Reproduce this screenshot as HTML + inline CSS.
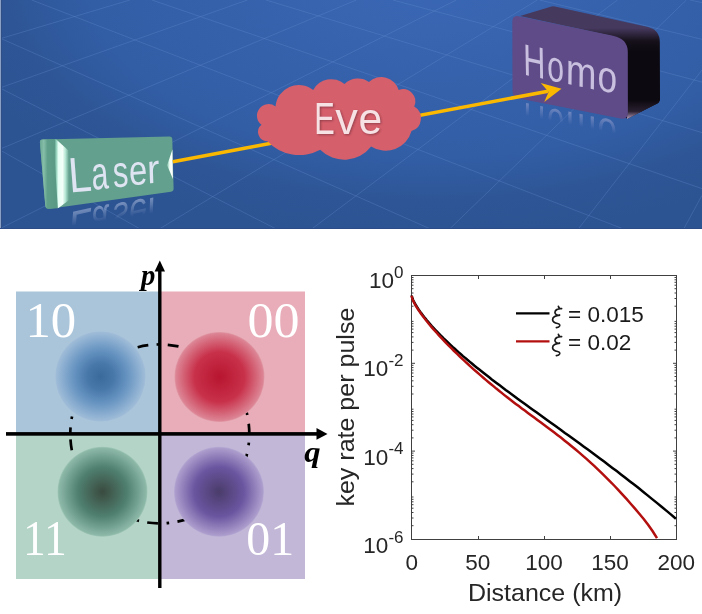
<!DOCTYPE html>
<html><head><meta charset="utf-8">
<style>
html,body{margin:0;padding:0;background:#fff;}
body{width:702px;height:614px;overflow:hidden;position:relative;}
svg{position:absolute;left:0;top:0;display:block;will-change:transform;}
.t{will-change:transform;position:absolute;left:0;top:0;transform-origin:0 0;font-family:"Liberation Sans",sans-serif;font-size:200px;line-height:1;white-space:nowrap;}
</style></head>
<body>
<svg width="702" height="229" viewBox="0 0 702 229">

<defs>
  <radialGradient id="bg" cx="0" cy="0" r="1" gradientUnits="userSpaceOnUse" gradientTransform="translate(430 -20) scale(500 260)">
    <stop offset="0" stop-color="#3a67b4"/>
    <stop offset="0.2" stop-color="#3864b0"/>
    <stop offset="0.68" stop-color="#325ea6"/>
    <stop offset="0.85" stop-color="#2e5696"/>
    <stop offset="1" stop-color="#2c5392"/>
  </radialGradient>
  <linearGradient id="lstrip" x1="40" y1="0" x2="55" y2="0" gradientUnits="userSpaceOnUse">
    <stop offset="0" stop-color="#6aa893"/>
    <stop offset="0.25" stop-color="#86bea9"/>
    <stop offset="0.5" stop-color="#609f8a"/>
    <stop offset="1" stop-color="#5b9b86"/>
  </linearGradient>
  <linearGradient id="bevel" x1="54.5" y1="0" x2="69" y2="0" gradientUnits="userSpaceOnUse">
    <stop offset="0" stop-color="#5c9c88"/>
    <stop offset="0.12" stop-color="#8fd0b9"/>
    <stop offset="0.27" stop-color="#e6fff4"/>
    <stop offset="0.55" stop-color="#f4fffa"/>
    <stop offset="0.75" stop-color="#b8e8d6"/>
    <stop offset="1" stop-color="#63a08d"/>
  </linearGradient>
  <linearGradient id="crescent" x1="167" y1="0" x2="172.5" y2="0" gradientUnits="userSpaceOnUse">
    <stop offset="0" stop-color="#7cbca6"/>
    <stop offset="0.5" stop-color="#f0fff8"/>
    <stop offset="1" stop-color="#ffffff"/>
  </linearGradient>
  <linearGradient id="sideG" x1="0" y1="28" x2="0" y2="52" gradientUnits="userSpaceOnUse">
    <stop offset="0" stop-color="#46395e"/>
    <stop offset="0.55" stop-color="#151019"/>
    <stop offset="1" stop-color="#0c0910"/>
  </linearGradient>
  <linearGradient id="sideB" x1="0" y1="100" x2="0" y2="119" gradientUnits="userSpaceOnUse">
    <stop offset="0" stop-color="#0c0910"/>
    <stop offset="0.6" stop-color="#2a2030"/>
    <stop offset="1" stop-color="#b9a0c0"/>
  </linearGradient>
</defs>
<rect x="0" y="0" width="702" height="229" fill="url(#bg)"/>
<path d="M0.0 38.1L430.5 229.0M31.7 0.0L623.6 229.0M151.9 0.0L702.0 188.6M266.0 0.0L702.0 132.6M392.8 0.0L702.0 82.1M539.5 0.0L702.0 39.3M0.0 88.0L276.2 229.0M0.0 150.0L140.2 229.0M690.0 0.0L702.0 2.6M0.0 38.8L129.9 0.0M0.0 87.9L247.4 -0.0M0.0 149.1L356.3 0.0M0.0 228.6L456.3 0.0M159.3 229.0L537.4 0.0M311.7 229.0L617.4 0.0M449.6 229.0L686.4 0.0M578.3 229.0L702.0 70.0M683.7 229.0L702.0 195.3" stroke="#6a92d2" stroke-width="0.9" fill="none" opacity="0.33"/>
<rect x="0" y="0" width="1" height="229" fill="#8aa0c4"/>
<rect x="1" y="0" width="1" height="229" fill="#2f4f85"/>
<rect x="0" y="228" width="702" height="1" fill="#2b4c86"/>

<!-- Laser box -->
<path d="M42.5 139.4 L169.5 136.6 Q172.2 136.6 172.3 139.3 L173.6 188.6 Q173.7 191.3 171 191.7 L49.5 208.8 Q45.6 209.3 45.3 205.6 L39.9 142.6 Q39.7 139.5 42.5 139.4 Z" fill="#63a08d"/>
<path d="M42.5 139.4 L53.5 139.2 L57.8 208.2 L49.5 208.8 Q45.6 209.3 45.3 205.6 L39.9 142.6 Q39.7 139.5 42.5 139.4 Z" fill="url(#lstrip)"/>
<path d="M53.5 139.2 L56 139.2 L68.5 150.5 L70.5 199 L59.5 207.3 L57.8 208.2 Z" fill="url(#bevel)"/>
<path d="M172.4 149.5 Q170 157 167 165.3 Q170 172 172.9 179 Z" fill="url(#crescent)"/>

<!-- Homo box -->
<path d="M520 16 L551.5 6.4 Q553 6 555 6.5 L648 27 Q659.8 30 659.8 42 L660 98 Q660 103 655 104.5 L628 118.5 L616 116 L612 36 Z" fill="url(#sideG)"/>
<path d="M627.9 95 L660 95 L660 99 Q660 103 655 104.8 L627 119 Z" fill="url(#sideB)"/>
<path d="M518.5 16.2 L613 35.8 Q627.8 38.8 627.8 52 L627.9 112.5 Q627.9 120 620.5 118.6 L519 98.5 Q512.6 97.2 512.5 91 L512.3 22.5 Q512.3 15 518.5 16.2 Z" fill="#5f4b87"/>

<!-- yellow connector -->
<path d="M172.8 161.8 L548 91.2" stroke="#fbb800" stroke-width="3.6" fill="none"/>
<path d="M561.5 88.8 L540.8 83 L548.6 92.1 L544.2 101.9 Z" fill="#fbb800"/>

<!-- Eve cloud -->
<path d="M275.5 106.5A23.4 23.4 0 0 1 313.2 89.9A20.5 20.5 0 0 1 344.5 84.0A19.2 19.2 0 0 1 368.9 81.9A18.2 18.2 0 0 1 398.7 90.0A12.2 12.2 0 0 1 414.2 106.4A13.6 13.6 0 0 1 411.5 131.1A26.7 26.7 0 0 1 371.1 146.4A33.9 33.9 0 0 1 320.2 149.8A43.7 43.7 0 0 1 267.4 141.2A9.2 9.2 0 0 1 261.5 124.8A11.5 11.5 0 1 1 275.5 106.5Z" fill="#d5606c"/>

<defs>
  <linearGradient id="fadeL" gradientUnits="userSpaceOnUse" x1="77" y1="203" x2="80.5" y2="225">
    <stop offset="0" stop-color="#fff" stop-opacity="0.62"/>
    <stop offset="1" stop-color="#fff" stop-opacity="0"/>
  </linearGradient>
  <mask id="mL" maskUnits="userSpaceOnUse" x="0" y="0" width="702" height="229"><rect x="0" y="0" width="702" height="229" fill="url(#fadeL)"/></mask>
  <linearGradient id="fadeH" gradientUnits="userSpaceOnUse" x1="570" y1="104" x2="566" y2="124">
    <stop offset="0" stop-color="#fff" stop-opacity="0.62"/>
    <stop offset="1" stop-color="#fff" stop-opacity="0"/>
  </linearGradient>
  <mask id="mH" maskUnits="userSpaceOnUse" x="0" y="0" width="702" height="229"><rect x="0" y="0" width="702" height="229" fill="url(#fadeH)"/></mask>
  <filter id="shEve" x="-20%" y="-20%" width="140%" height="140%"><feGaussianBlur stdDeviation="0.8"/></filter>
</defs>
<g mask="url(#mL)" fill="#d6def5" font-family="Liberation Sans" font-size="200"><text transform="matrix(0.20455 -0.04587 0.01899 -0.25176 69.84 212.58)" >L</text><text transform="matrix(0.15192 -0.03265 0.01449 -0.23606 92.37 207.87)" >a</text><text transform="matrix(0.15465 -0.03324 0.01120 -0.22438 113.38 204.36)" >s</text><text transform="matrix(0.16383 -0.03521 0.00828 -0.21322 129.44 201.62)" >e</text><text transform="matrix(0.18400 -0.03955 0.00606 -0.20410 147.45 198.72)" >r</text></g>
<g mask="url(#mH)" fill="#c8c0e1" font-family="Liberation Sans" font-size="200"><text transform="matrix(0.15268 0.03143 0.00381 -0.21983 523.52 102.51)" >H</text><text transform="matrix(0.15106 0.03110 0.00093 -0.21956 547.34 107.57)" >o</text><text transform="matrix(0.18357 0.03779 -0.00222 -0.22020 565.81 111.05)" >m</text><text transform="matrix(0.17553 0.03614 -0.00531 -0.22083 597.21 117.10)" >o</text></g>
<g fill="#dfe4f2" font-family="Liberation Sans" font-size="200"><text transform="matrix(0.20455 -0.01635 0.01898 0.24708 69.84 192.54)" >L</text><text transform="matrix(0.15192 -0.01359 0.01447 0.23249 92.37 189.71)" >a</text><text transform="matrix(0.15465 -0.01383 0.01118 0.22162 113.38 187.42)" >s</text><text transform="matrix(0.16383 -0.01465 0.00827 0.21118 129.44 185.48)" >e</text><text transform="matrix(0.18400 -0.01646 0.00607 0.20261 147.45 183.61)" >r</text></g>
<g fill="#c9c0df" font-family="Liberation Sans" font-size="200"><text transform="matrix(0.15268 0.03240 0.00381 0.22144 523.52 74.61)" >H</text><text transform="matrix(0.15106 0.03206 0.00093 0.21995 547.34 79.81)" >o</text><text transform="matrix(0.18357 0.03896 -0.00222 0.21926 565.81 83.41)" >m</text><text transform="matrix(0.17553 0.03725 -0.00531 0.21858 597.21 89.63)" >o</text></g>
<g font-family="Liberation Sans"><g fill="#6a2630" fill-opacity="0.6" filter="url(#shEve)" transform="translate(1.1 1.1)"><text transform="matrix(0.3074 0 0 0.4493 314.34 133.70)" font-size="100" >E</text><text transform="matrix(0.4521 0 0 0.4396 335.15 133.70)" font-size="100" >v</text><text transform="matrix(0.4255 0 0 0.4455 358.40 133.85)" font-size="100" >e</text></g><g fill="#f6e1e5"><text transform="matrix(0.3074 0 0 0.4493 314.34 133.70)" font-size="100" >E</text><text transform="matrix(0.4521 0 0 0.4396 335.15 133.70)" font-size="100" >v</text><text transform="matrix(0.4255 0 0 0.4455 358.40 133.85)" font-size="100" >e</text></g></g>

</svg>

<svg style="top:229px" width="702" height="385" viewBox="0 229 702 385">

<defs>
  <radialGradient id="gBlue" cx="0.5" cy="0.5" r="0.5">
    <stop offset="0" stop-color="#3a6a9c"/>
    <stop offset="0.3" stop-color="#4878aa"/>
    <stop offset="0.6" stop-color="#6794c1"/>
    <stop offset="0.9" stop-color="#92b3d3"/>
    <stop offset="1" stop-color="#9fbcd8" stop-opacity="0.9"/>
  </radialGradient>
  <radialGradient id="gRed" cx="0.5" cy="0.5" r="0.5">
    <stop offset="0" stop-color="#b81530"/>
    <stop offset="0.55" stop-color="#c83049"/>
    <stop offset="0.97" stop-color="#dc8494"/>
    <stop offset="1" stop-color="#e29aa7"/>
  </radialGradient>
  <radialGradient id="gGreen" cx="0.5" cy="0.5" r="0.5">
    <stop offset="0" stop-color="#3a4a3f"/>
    <stop offset="0.55" stop-color="#4f8070"/>
    <stop offset="0.97" stop-color="#8cb8a8"/>
    <stop offset="1" stop-color="#a2c8ba"/>
  </radialGradient>
  <radialGradient id="gPurple" cx="0.5" cy="0.5" r="0.5">
    <stop offset="0" stop-color="#4a3c6a"/>
    <stop offset="0.55" stop-color="#6a55a0"/>
    <stop offset="0.97" stop-color="#ab9ccc"/>
    <stop offset="1" stop-color="#b8acd4"/>
  </radialGradient>
</defs>
<rect x="16" y="291.5" width="144" height="142.5" fill="#aac5da"/>
<rect x="160" y="291.5" width="145" height="142.5" fill="#e8adb8"/>
<rect x="16" y="434" width="144" height="145" fill="#b3d4c7"/>
<rect x="160" y="434" width="145" height="145" fill="#c3b7d7"/>
<path d="M70.3 433.9 A89.5 89.5 0 0 1 249.3 433.9 A89.5 89.5 0 0 1 70.3 433.9" fill="none" stroke="#000" stroke-width="2.7" stroke-dasharray="10.8 8.3 2.6 8.8" stroke-dashoffset="4.1"/>
<circle cx="100.5" cy="376.5" r="45" fill="url(#gBlue)"/>
<circle cx="219.5" cy="377" r="45" fill="url(#gRed)"/>
<circle cx="102.5" cy="491.8" r="45" fill="url(#gGreen)"/>
<circle cx="219" cy="491.8" r="45" fill="url(#gPurple)"/>
<text transform="matrix(0.5080 0 0 0.5000 25.43 337.00)" font-size="100" font-family="Liberation Serif" fill="#fff">10</text><text transform="matrix(0.5207 0 0 0.5075 247.42 336.99)" font-size="100" font-family="Liberation Serif" fill="#fff">00</text><text transform="matrix(0.4556 0 0 0.5091 22.90 555.10)" font-size="100" font-family="Liberation Serif" fill="#fff">11</text><text transform="matrix(0.4789 0 0 0.4882 246.28 555.42)" font-size="100" font-family="Liberation Serif" fill="#fff">01</text><text transform="matrix(0.2870 0 0 0.2926 141.01 285.35)" font-size="100" font-family="Liberation Serif" font-weight="bold" font-style="italic" fill="#000">p</text><text transform="matrix(0.3261 0 0 0.2897 304.17 462.32)" font-size="100" font-family="Liberation Serif" font-weight="bold" font-style="italic" fill="#000">q</text>
<rect x="158.1" y="270" width="3.4" height="318" fill="#000"/>
<path d="M159.8 260.5 L165 271.5 L154.6 271.5 Z" fill="#000"/>
<rect x="6" y="432.1" width="312" height="3.6" fill="#000"/>
<path d="M327.5 433.9 L316.5 428 L316.5 439.8 Z" fill="#000"/>


<path d="M411.5 306.2h2M676.5 306.2h-2M411.5 298.5h2M676.5 298.5h-2M411.5 293.0h2M676.5 293.0h-2M411.5 288.7h2M676.5 288.7h-2M411.5 285.2h2M676.5 285.2h-2M411.5 282.3h2M676.5 282.3h-2M411.5 279.8h2M676.5 279.8h-2M411.5 277.5h2M676.5 277.5h-2M411.5 350.1h2M676.5 350.1h-2M411.5 342.4h2M676.5 342.4h-2M411.5 336.9h2M676.5 336.9h-2M411.5 332.6h2M676.5 332.6h-2M411.5 329.1h2M676.5 329.1h-2M411.5 326.2h2M676.5 326.2h-2M411.5 323.7h2M676.5 323.7h-2M411.5 321.4h2M676.5 321.4h-2M411.5 363.3h3.5M676.5 363.3h-3.5M411.5 394.0h2M676.5 394.0h-2M411.5 386.3h2M676.5 386.3h-2M411.5 380.8h2M676.5 380.8h-2M411.5 376.5h2M676.5 376.5h-2M411.5 373.0h2M676.5 373.0h-2M411.5 370.1h2M676.5 370.1h-2M411.5 367.6h2M676.5 367.6h-2M411.5 365.3h2M676.5 365.3h-2M411.5 437.9h2M676.5 437.9h-2M411.5 430.2h2M676.5 430.2h-2M411.5 424.7h2M676.5 424.7h-2M411.5 420.4h2M676.5 420.4h-2M411.5 416.9h2M676.5 416.9h-2M411.5 414.0h2M676.5 414.0h-2M411.5 411.5h2M676.5 411.5h-2M411.5 409.2h2M676.5 409.2h-2M411.5 451.1h3.5M676.5 451.1h-3.5M411.5 481.8h2M676.5 481.8h-2M411.5 474.1h2M676.5 474.1h-2M411.5 468.6h2M676.5 468.6h-2M411.5 464.3h2M676.5 464.3h-2M411.5 460.8h2M676.5 460.8h-2M411.5 457.9h2M676.5 457.9h-2M411.5 455.4h2M676.5 455.4h-2M411.5 453.1h2M676.5 453.1h-2M411.5 525.7h2M676.5 525.7h-2M411.5 518.0h2M676.5 518.0h-2M411.5 512.5h2M676.5 512.5h-2M411.5 508.2h2M676.5 508.2h-2M411.5 504.7h2M676.5 504.7h-2M411.5 501.8h2M676.5 501.8h-2M411.5 499.3h2M676.5 499.3h-2M411.5 497.0h2M676.5 497.0h-2M478.5 539.5v-3.5M478.5 275.5v3.5M544.5 539.5v-3.5M544.5 275.5v3.5M610.5 539.5v-3.5M610.5 275.5v3.5" fill="none" stroke="#404040" stroke-width="1"/>
<rect x="411.5" y="275.5" width="265" height="264" fill="none" stroke="#404040" stroke-width="1"/>
<path d="M411.8 295.6 L411.8 296.0 L411.9 296.5 L412.0 297.0 L412.2 297.5 L412.4 298.1 L412.6 298.8 L412.9 299.5 L413.2 300.2 L413.6 301.0 L414.0 301.9 L414.5 302.7 L415.0 303.7 L415.6 304.6 L416.2 305.6 L416.8 306.7 L417.5 307.7 L418.2 308.8 L419.0 310.0 L419.8 311.1 L420.7 312.4 L421.6 313.6 L422.6 314.9 L423.6 316.2 L424.6 317.5 L425.7 318.8 L426.8 320.2 L428.0 321.6 L429.2 323.0 L430.5 324.5 L431.8 326.0 L433.2 327.5 L434.6 329.0 L436.0 330.5 L437.5 332.1 L439.0 333.7 L440.6 335.3 L442.2 336.9 L443.9 338.6 L445.6 340.2 L447.4 341.9 L449.2 343.6 L451.0 345.3 L452.9 347.1 L454.8 348.8 L456.8 350.6 L458.8 352.4 L460.9 354.2 L463.0 356.1 L465.2 357.9 L467.4 359.8 L469.6 361.6 L471.9 363.5 L474.2 365.5 L476.6 367.4 L479.0 369.3 L481.5 371.3 L484.0 373.3 L486.6 375.3 L489.2 377.3 L491.8 379.4 L494.5 381.4 L497.2 383.5 L500.0 385.6 L502.8 387.7 L505.7 389.9 L508.6 392.0 L511.6 394.2 L514.6 396.4 L517.6 398.7 L520.7 400.9 L523.9 403.2 L527.0 405.5 L530.3 407.9 L533.5 410.2 L536.8 412.6 L540.2 415.0 L543.6 417.5 L547.0 420.0 L550.5 422.5 L554.1 425.0 L557.6 427.6 L561.3 430.2 L564.9 432.9 L568.6 435.5 L572.4 438.3 L576.2 441.0 L580.0 443.8 L583.9 446.7 L587.9 449.6 L591.9 452.5 L595.9 455.5 L599.9 458.5 L604.1 461.6 L608.2 464.7 L612.4 467.9 L616.7 471.1 L621.0 474.4 L625.3 477.8 L629.7 481.2 L634.1 484.6 L638.6 488.1 L643.1 491.7 L647.6 495.4 L652.2 499.1 L656.9 502.9 L661.6 506.7 L666.3 510.6 L671.1 514.6 L675.9 518.7" fill="none" stroke="#000" stroke-width="2.5"/>
<path d="M411.8 295.7 L411.8 296.2 L411.9 296.7 L412.0 297.2 L412.1 297.8 L412.3 298.5 L412.5 299.2 L412.8 299.9 L413.1 300.6 L413.5 301.4 L413.9 302.2 L414.3 303.1 L414.8 304.0 L415.3 304.9 L415.8 305.9 L416.4 306.9 L417.1 307.9 L417.8 309.0 L418.5 310.1 L419.3 311.2 L420.1 312.3 L420.9 313.5 L421.8 314.8 L422.7 316.0 L423.7 317.3 L424.7 318.6 L425.8 320.0 L426.8 321.3 L428.0 322.7 L429.2 324.2 L430.4 325.6 L431.6 327.1 L432.9 328.6 L434.3 330.2 L435.7 331.7 L437.1 333.3 L438.5 334.9 L440.1 336.6 L441.6 338.2 L443.2 339.9 L444.8 341.6 L446.5 343.4 L448.2 345.1 L450.0 346.9 L451.8 348.7 L453.6 350.5 L455.5 352.4 L457.4 354.2 L459.3 356.1 L461.4 358.0 L463.4 359.9 L465.5 361.9 L467.6 363.8 L469.8 365.8 L472.0 367.8 L474.2 369.8 L476.5 371.8 L478.9 373.9 L481.2 375.9 L483.6 378.0 L486.1 380.1 L488.6 382.2 L491.1 384.3 L493.7 386.4 L496.3 388.6 L499.0 390.7 L501.7 392.9 L504.4 395.1 L507.2 397.3 L510.1 399.5 L512.9 401.7 L515.8 403.9 L518.8 406.1 L521.8 408.4 L524.8 410.6 L527.9 412.9 L531.0 415.2 L534.2 417.5 L537.4 419.9 L540.6 422.3 L543.9 424.7 L547.2 427.2 L550.6 429.7 L554.0 432.3 L557.4 434.9 L560.9 437.6 L564.4 440.4 L568.0 443.3 L571.6 446.2 L575.3 449.3 L579.0 452.4 L582.7 455.6 L586.5 458.9 L590.3 462.4 L594.2 465.9 L598.1 469.6 L602.0 473.4 L606.0 477.3 L610.0 481.3 L614.1 485.5 L618.2 489.8 L622.3 494.3 L626.5 498.9 L630.7 503.7 L635.0 508.6 L639.3 513.7 L643.7 519.0 L648.1 524.7 L652.5 531.0 L657.0 538.2" fill="none" stroke="#b30f0f" stroke-width="2.5"/>
<g font-family="Liberation Sans" fill="#262626" font-size="22.5"><text x="403.5" y="288.0" text-anchor="end"><tspan>10</tspan><tspan font-size="17" dy="-10.5">0</tspan></text><text x="403.5" y="376.4" text-anchor="end"><tspan>10</tspan><tspan font-size="17" dy="-10.5">-2</tspan></text><text x="403.5" y="464.7" text-anchor="end"><tspan>10</tspan><tspan font-size="17" dy="-10.5">-4</tspan></text><text x="403.5" y="553.1" text-anchor="end"><tspan>10</tspan><tspan font-size="17" dy="-10.5">-6</tspan></text><text x="411.7" y="570.4" text-anchor="middle">0</text><text x="477.8" y="570.4" text-anchor="middle">50</text><text x="544.0" y="570.4" text-anchor="middle">100</text><text x="610.1" y="570.4" text-anchor="middle">150</text><text x="676.2" y="570.4" text-anchor="middle">200</text></g>
<text transform="translate(468 601) scale(1.042 1)" font-family="Liberation Sans" font-size="24" fill="#262626">Distance (km)</text>
<text transform="translate(353.5 506.6) rotate(-90) scale(1.043 1)" font-family="Liberation Sans" font-size="24" fill="#262626">key rate per pulse</text>
<path d="M516 313.3H549.5" stroke="#000" stroke-width="2.2"/>
<path d="M516 341.3H549.5" stroke="#b30f0f" stroke-width="2.2"/>
<g font-family="Liberation Sans" fill="#1a1a1a" font-size="22.5">
<text x="568" y="321.9">= 0.015</text>
<text x="568" y="349.9">= 0.02</text>
</g>
<g fill="none" stroke="#1a1a1a" stroke-width="1.7" stroke-linecap="round">
<path id="xi1" d="M561.6 308.6 Q557.2 308.1 555.3 311 Q553.9 314.1 558 315.3 L560.2 315.2 Q552.6 315.7 552.6 319.8 Q552.9 322.6 557.5 323.5 Q560.4 324.1 559.6 326 Q559 327.3 556.4 327.7 M558.4 306.4 L559.2 308.4"/>
<path d="M561.6 308.6 Q557.2 308.1 555.3 311 Q553.9 314.1 558 315.3 L560.2 315.2 Q552.6 315.7 552.6 319.8 Q552.9 322.6 557.5 323.5 Q560.4 324.1 559.6 326 Q559 327.3 556.4 327.7 M558.4 306.4 L559.2 308.4" transform="translate(0 28)"/>
</g>

</svg>

</body></html>
